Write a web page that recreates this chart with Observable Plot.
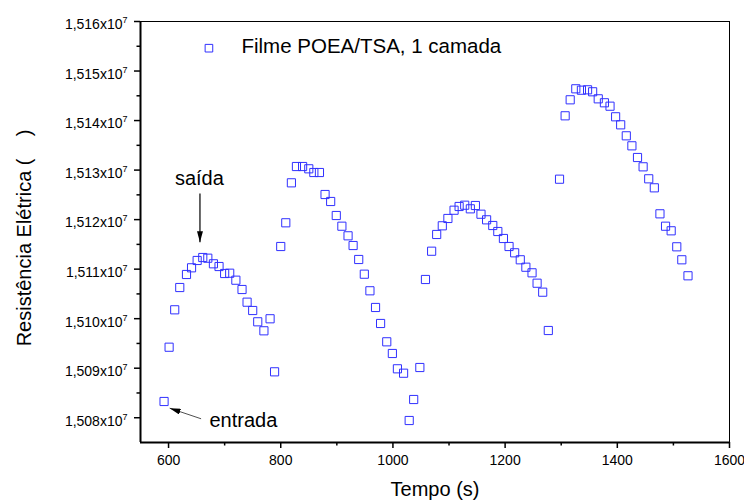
<!DOCTYPE html>
<html><head><meta charset="utf-8">
<script src="https://cdn.jsdelivr.net/npm/d3@7"></script>
<script src="https://cdn.jsdelivr.net/npm/@observablehq/plot@0.6"></script>
<style>body{margin:0;background:#fff;}</style>
</head><body><div id="chart"></div>
<script>
const tempo = [592,601,611,620,632,641,651,661,670,680,690,700,709,720,731,740,750,759,770,781,789,800,809,819,828,839,850,859,869,879,889,899,909,920,929,939,949,959,969,978,989,999,1008,1019,1029,1037,1048,1058,1069,1078,1088,1098,1109,1118,1128,1138,1147,1157,1167,1178,1187,1197,1207,1217,1227,1237,1248,1257,1267,1277,1297,1307,1316,1326,1336,1347,1356,1366,1377,1387,1397,1406,1416,1426,1436,1446,1456,1466,1476,1486,1496,1506,1515,1526];
const resistencia = [15083280,15094240,15101790,15106290,15108920,15110270,15111750,15112350,15112210,15111080,15110530,15109120,15109180,15107770,15105890,15103330,15101650,15099370,15097550,15099980,15089270,15114570,15119360,15127430,15130720,15130720,15130260,15129510,15129510,15125070,15123660,15120830,15118670,15116730,15114770,15111950,15108980,15105630,15102260,15099030,15095330,15092970,15089880,15088990,15079440,15083680,15090140,15107910,15113620,15117000,15118750,15120230,15121900,15122650,15122910,15122180,15122850,15121090,15119960,15118810,15117600,15116190,15114570,15113300,15111890,15110390,15109260,15107160,15105350,15097610,15128160,15140960,15144190,15146410,15146130,15146210,15145810,15144390,15143590,15142900,15140760,15139140,15136920,15134900,15132540,15130660,15128240,15126420,15121170,15118670,15117740,15114510,15111890,15108660];

const xDomain = [550, 1600];
const yDomain = [15075000, 15160000];
const xTicks = [600, 800, 1000, 1200, 1400, 1600];
const xMinor = [700, 900, 1100, 1300, 1500];
const yTicks = [15080000, 15090000, 15100000, 15110000, 15120000, 15130000, 15140000, 15150000, 15160000];
const yMinor = [15085000, 15095000, 15105000, 15115000, 15125000, 15135000, 15145000, 15155000];

const serieNome = "Filme POEA/TSA, 1 camada";
const legendaMarca = [{t: 672, r: 15154610}];
const legendaTexto = [{t: 730, r: 15153540, texto: serieNome}];
const saidaTexto = [{t: 655, r: 15126890, texto: "saída"}];
const saidaSeta = [{t1: 656, r1: 15125270, t2: 656, r2: 15115440}];
const entradaTexto = [{t: 673, r: 15078090, texto: "entrada"}];
const entradaSeta = [{t1: 658, r1: 15079790, t2: 602, r2: 15081930}];
const rotuloX = "Tempo (s)";
const rotuloY = "Resistência Elétrica (\u00A0\u00A0\u00A0\u00A0)";

const data = tempo.map((t, i) => ({t, r: resistencia[i]}));
const azul = "#3030ff";

const svg = Plot.plot({
  width: 744, height: 500,
  marginLeft: 140, marginRight: 15, marginTop: 21, marginBottom: 58,
  style: {fontFamily: "'Liberation Sans', Arial, sans-serif", fontSize: "14px", background: "white", color: "black"},
  x: {domain: xDomain},
  y: {domain: yDomain},
  marks: [
    Plot.frame({stroke: "black", strokeWidth: 1}),
    Plot.ruleX([xDomain[0]], {stroke: "black", strokeWidth: 2}),
    Plot.ruleY([yDomain[0]], {stroke: "black", strokeWidth: 2}),
    Plot.axisX({ticks: xTicks, tickSize: 6, tickPadding: 7, fontSize: 14, strokeWidth: 1.5, tickFormat: d => String(d), label: null}),
    Plot.axisX({ticks: xMinor, tickSize: 3.5, strokeWidth: 1.5, tickFormat: () => "", label: null}),
    Plot.axisY({ticks: yTicks, tickSize: 6, tickPadding: 7, fontSize: 14, strokeWidth: 1.5, tickFormat: d => (d / 1e7).toFixed(3).replace(".", ","), label: null}),
    Plot.axisY({ticks: yMinor, tickSize: 3.5, strokeWidth: 1.5, tickFormat: () => "", label: null}),
    Plot.dot(data, {x: "t", y: "r", symbol: "square", r: 4.6, stroke: azul, strokeWidth: 1, fill: "none"}),
    Plot.dot(legendaMarca, {x: "t", y: "r", symbol: "square", r: 4.3, stroke: azul, strokeWidth: 1, fill: "none"}),
    Plot.text(legendaTexto, {x: "t", y: "r", text: "texto", textAnchor: "start", lineAnchor: "bottom", fontSize: 20.5, fill: "black"}),
    Plot.text(saidaTexto, {x: "t", y: "r", text: "texto", textAnchor: "middle", lineAnchor: "bottom", fontSize: 20, fill: "black"}),
    Plot.link(saidaSeta, {x1: "t1", y1: "r1", x2: "t2", y2: "r2", stroke: "black", strokeWidth: 1.2}),
    Plot.text(entradaTexto, {x: "t", y: "r", text: "texto", textAnchor: "start", lineAnchor: "bottom", fontSize: 20, fill: "black"}),
    Plot.link(entradaSeta, {x1: "t1", y1: "r1", x2: "t2", y2: "r2", stroke: "#222", strokeWidth: 0.8}),
    Plot.text([rotuloX], {text: d => d, frameAnchor: "bottom", dy: 53, textAnchor: "middle", lineAnchor: "bottom", fontSize: 20, fill: "black"}),
    Plot.text([rotuloY], {text: d => d, frameAnchor: "left", dx: -110, dy: 6, rotate: -90, textAnchor: "middle", lineAnchor: "bottom", fontSize: 20, fill: "black"})
  ]
});

// superscript exponent on y tick labels
d3.select(svg).selectAll('g[aria-label="y-axis tick label"] text').each(function() {
  const s = this.textContent;
  if (!s) return;
  const t = d3.select(this);
  t.text(null).attr("dy", "0.24em");
  t.append("tspan").text(s + "x10");
  t.append("tspan").attr("font-size", "9px").attr("dy", "-6").text("7");
});

// filled arrow heads
const defs = d3.select(svg).insert("defs", ":first-child");
defs.append("marker").attr("id", "ponta").attr("viewBox", "0 0 11 6").attr("refX", 11).attr("refY", 3)
  .attr("markerWidth", 11).attr("markerHeight", 6).attr("markerUnits", "userSpaceOnUse").attr("orient", "auto")
  .append("path").attr("d", "M0,0L11,3L0,6Z").attr("fill", "black").attr("stroke", "none");
d3.select(svg).selectAll('g[aria-label="link"] path').attr("marker-end", "url(#ponta)");

document.getElementById("chart").appendChild(svg);
</script>
</body></html>
